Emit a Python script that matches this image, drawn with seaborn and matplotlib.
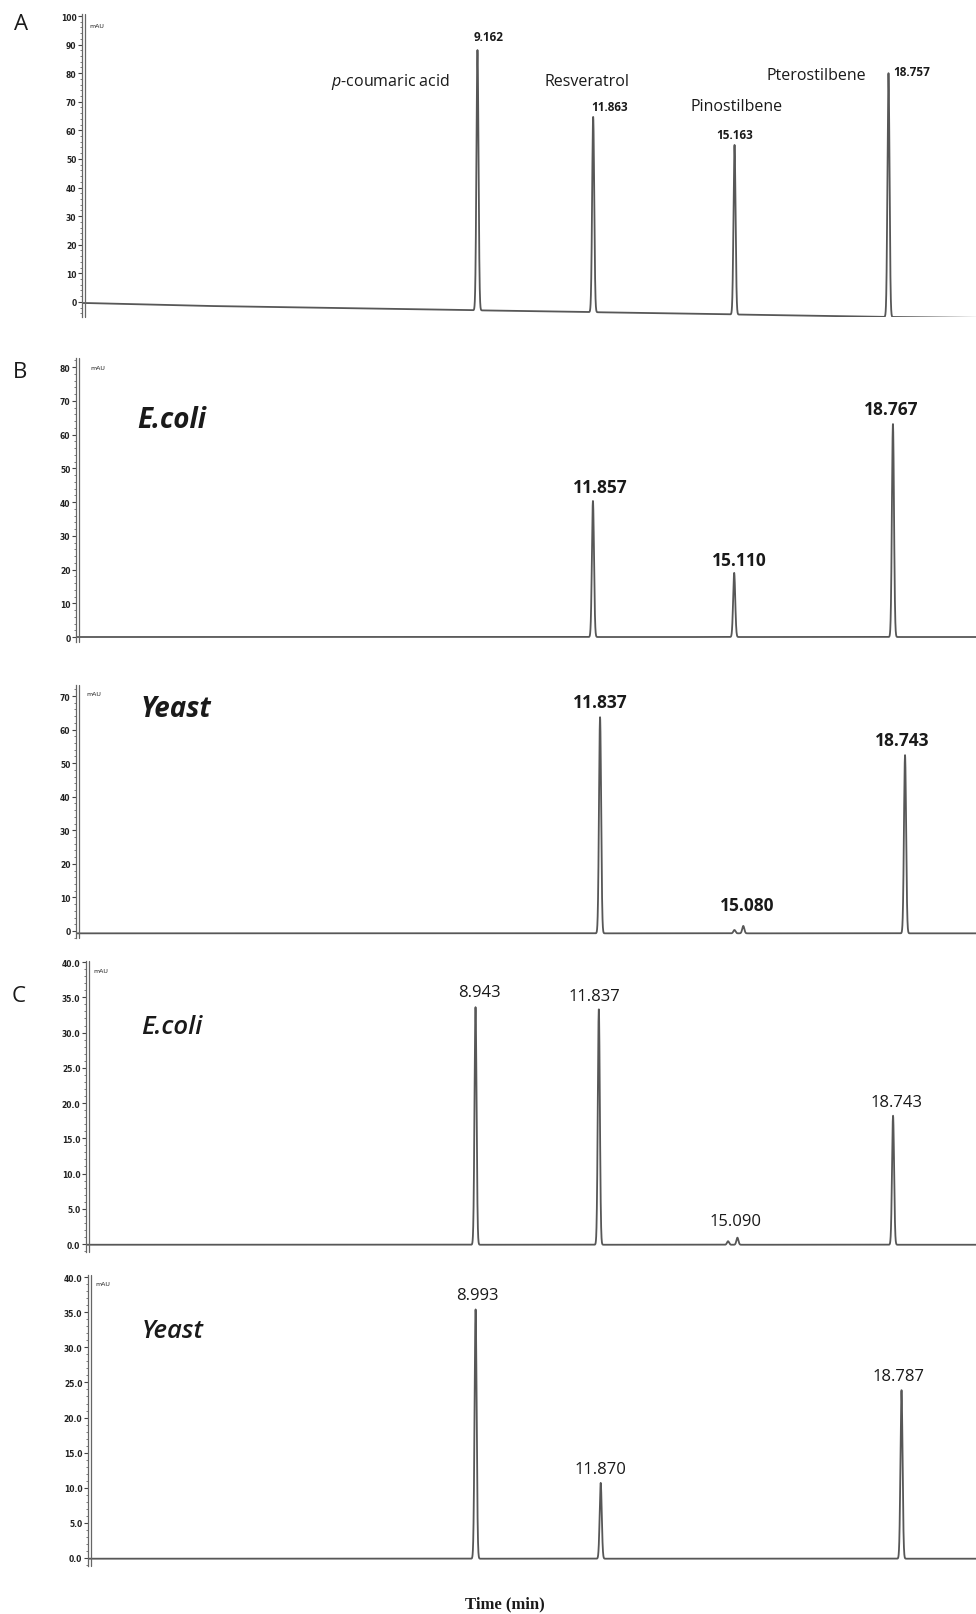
import numpy as np
import seaborn as sns
import matplotlib.pyplot as plt
from matplotlib import transforms as mtransforms
from matplotlib.ticker import MultipleLocator, FormatStrFormatter

W, H = 976, 1615

# --- data: retention time (min), apex (mAU) ---
std_times = [9.162, 11.863, 15.163, 18.757]
std_apex = [88.1, 64.7, 54.9, 80.0]
std_names = ["$\\it{p}$-coumaric acid", "Resveratrol", "Pinostilbene", "Pterostilbene"]
std_drift_t = [0.0, 2.7, 14.3, 18.3, 20.8]
std_drift_mau = [-0.4, -1.4, -4.2, -5.2, -5.6]

b_ecoli_times = [11.857, 15.110, 18.767]
b_ecoli_apex = [40.3, 19.0, 63.1]

b_yeast_times = [11.837, 15.080, 18.743]
b_yeast_apex = [63.7, 1.5, 52.4]
b_yeast_minor_t = [14.88]
b_yeast_minor_mau = [0.3]

c_ecoli_times = [8.943, 11.837, 15.090, 18.743]
c_ecoli_apex = [33.6, 33.3, 0.9, 18.2]
c_ecoli_minor_t = [14.87]
c_ecoli_minor_mau = [0.4]

c_yeast_times = [8.993, 11.870, 18.787]
c_yeast_apex = [35.4, 10.7, 23.9]

sns.set_theme(style="white")
plt.rcParams['font.family'] = ['Open Sans', 'DejaVu Sans']
plt.rcParams['mathtext.fontset'] = 'custom'
plt.rcParams['mathtext.rm'] = 'Open Sans'
plt.rcParams['mathtext.it'] = 'Open Sans:italic'

fig = plt.figure(figsize=(W / 100, H / 100), dpi=100)
fig.patch.set_facecolor('white')

SIGMA = 0.024
LINE = '#575757'


def px_axes(left, top, bottom):
    return fig.add_axes([left / W, 1 - bottom / H, (W - left) / W, (bottom - top) / H])


def chromatogram(ax, xlim, times, apex, base_t, base_v, minor_t=(), minor_v=()):
    t = np.linspace(xlim[0], xlim[1], 20000)
    base = np.interp(t, base_t, base_v)
    sig = base.copy()
    for tp, ap in list(zip(times, apex)) + list(zip(minor_t, minor_v)):
        b0 = np.interp(tp, base_t, base_v)
        sig += (ap - b0) * np.exp(-0.5 * ((t - tp) / SIGMA) ** 2)
    sns.lineplot(x=t, y=sig, ax=ax, color=LINE, lw=1.3, estimator=None,
                 sort=False, errorbar=None)
    ax.set_xlim(*xlim)


def style_yaxis(ax, ylim, ticks, step, fmt, mau_xy):
    ax.set_ylim(*ylim)
    ax.set_yticks(ticks)
    ax.yaxis.set_minor_locator(MultipleLocator(step / 5))
    ax.yaxis.set_major_formatter(FormatStrFormatter(fmt))
    ax.tick_params(axis='y', which='major', left=True, length=3, width=0.8,
                   color='#444444', labelsize=5.5, pad=1, labelcolor='#222222')
    ax.tick_params(axis='y', which='minor', left=True, length=1.5, width=0.6,
                   color='#666666')
    ax.tick_params(axis='x', bottom=False, labelbottom=False)
    for lab in ax.get_yticklabels():
        lab.set_fontweight('bold')
        lab.set_family('DejaVu Sans')
    for s in ['top', 'right', 'bottom']:
        ax.spines[s].set_visible(False)
    ax.spines['left'].set_color('#666666')
    ax.spines['left'].set_linewidth(0.9)
    tr = mtransforms.offset_copy(ax.transAxes, fig=fig, x=3, y=0, units='dots')
    ax.plot([0, 0], [0, 1], transform=tr, color='#666666', lw=0.9, clip_on=False)
    ax.set_xlabel('')
    ax.set_ylabel('')
    fig.text(mau_xy[0] / W, 1 - mau_xy[1] / H, 'mAU', fontsize=4.5,
             family='DejaVu Sans', ha='left', va='center', color='#222222')


def peak_labels(ax, times, apex, offsets, size, weight):
    for tp, ap, (dx, dy) in zip(times, apex, offsets):
        ax.annotate(f"{tp:.3f}", xy=(tp, ap), xytext=(dx, dy),
                    textcoords='offset pixels', ha='center',
                    va='center', fontsize=size, fontweight=weight, color='#1a1a1a')


def fig_text(x, y, s, **kw):
    fig.text(x / W, 1 - y / H, s, ha='center', va='center', **kw)


# ---------------- A: standards ----------------
axA = px_axes(82, 15, 318)
chromatogram(axA, (-0.07, 20.80), std_times, std_apex, std_drift_t, std_drift_mau)
style_yaxis(axA, (-5.3, 100.7), range(0, 101, 10), 10, '%d', (89, 26))
peak_labels(axA, std_times[:3], std_apex[:3], [(11, 14), (16, 10), (0, 10)], 8.5, 'bold')
axA.annotate(f"{std_times[3]:.3f}", xy=(std_times[3], std_apex[3]), xytext=(5, 2),
             textcoords='offset pixels', ha='left', va='center', fontsize=8.5,
             fontweight='bold', color='#1a1a1a')
name_xy = [(390, 82), (587, 82), (737, 107), (816, 76)]
for name, (x, y) in zip(std_names, name_xy):
    fig_text(x, y, name, fontsize=11.5, color='#1a1a1a')

# ---------------- B: E. coli / yeast ----------------
axB1 = px_axes(76, 359, 643)
chromatogram(axB1, (-0.05, 20.68), b_ecoli_times, b_ecoli_apex, [0, 21], [0, 0])
style_yaxis(axB1, (-1.48, 82.67), range(0, 81, 10), 10, '%d', (90, 368))
peak_labels(axB1, b_ecoli_times, b_ecoli_apex, [(7, 14), (5, 13), (-2, 15)], 12.5, 'bold')

axB2 = px_axes(76, 686, 939)
chromatogram(axB2, (-0.03, 20.35), b_yeast_times, b_yeast_apex, [0, 21], [-0.7, -0.7],
             b_yeast_minor_t, b_yeast_minor_mau)
style_yaxis(axB2, (-2.09, 73.3), range(0, 71, 10), 10, '%d', (86, 695))
peak_labels(axB2, b_yeast_times, b_yeast_apex, [(0, 15), (4, 21), (-3, 15)], 12.5, 'bold')

# ---------------- C: E. coli / yeast ----------------
axC1 = px_axes(86, 962, 1253)
chromatogram(axC1, (-0.20, 20.69), c_ecoli_times, c_ecoli_apex, [0, 21], [-0.1, -0.1],
             c_ecoli_minor_t, c_ecoli_minor_mau)
style_yaxis(axC1, (-1.13, 40.15), np.arange(0, 40.1, 5), 5, '%.1f', (93, 972))
peak_labels(axC1, c_ecoli_times, c_ecoli_apex, [(4, 15), (-4, 13), (-2, 17), (3, 14)], 12, 'normal')

axC2 = px_axes(88, 1276, 1567)
chromatogram(axC2, (0.08, 20.50), c_yeast_times, c_yeast_apex, [0, 21], [-0.1, -0.1])
style_yaxis(axC2, (-1.14, 40.3), np.arange(0, 40.1, 5), 5, '%.1f', (95, 1285))
peak_labels(axC2, c_yeast_times, c_yeast_apex, [(2, 14), (0, 14), (-3, 14)], 12, 'normal')

# ---------------- panel letters, organism names, axis title ----------------
for letter, (x, y) in zip("ABC", [(21, 24), (20, 373), (19, 997)]):
    fig_text(x, y, letter, fontsize=16, color='#1a1a1a')

fig_text(172, 420, "E.coli", fontsize=20, fontweight='bold', fontstyle='italic', color='#1a1a1a')
fig_text(176, 710, "Yeast", fontsize=20, fontweight='bold', fontstyle='italic', color='#1a1a1a')
fig_text(172, 1028, "E.coli", fontsize=18.5, fontweight='semibold', fontstyle='italic', color='#1a1a1a')
fig_text(173, 1332, "Yeast", fontsize=18.5, fontweight='semibold', fontstyle='italic', color='#1a1a1a')

fig_text(505, 1604, "Time (min)", fontsize=12, fontweight='bold',
         family=['Liberation Serif', 'DejaVu Serif'], color='#1a1a1a')

fig.savefig("out.png", dpi=100, facecolor='white')
